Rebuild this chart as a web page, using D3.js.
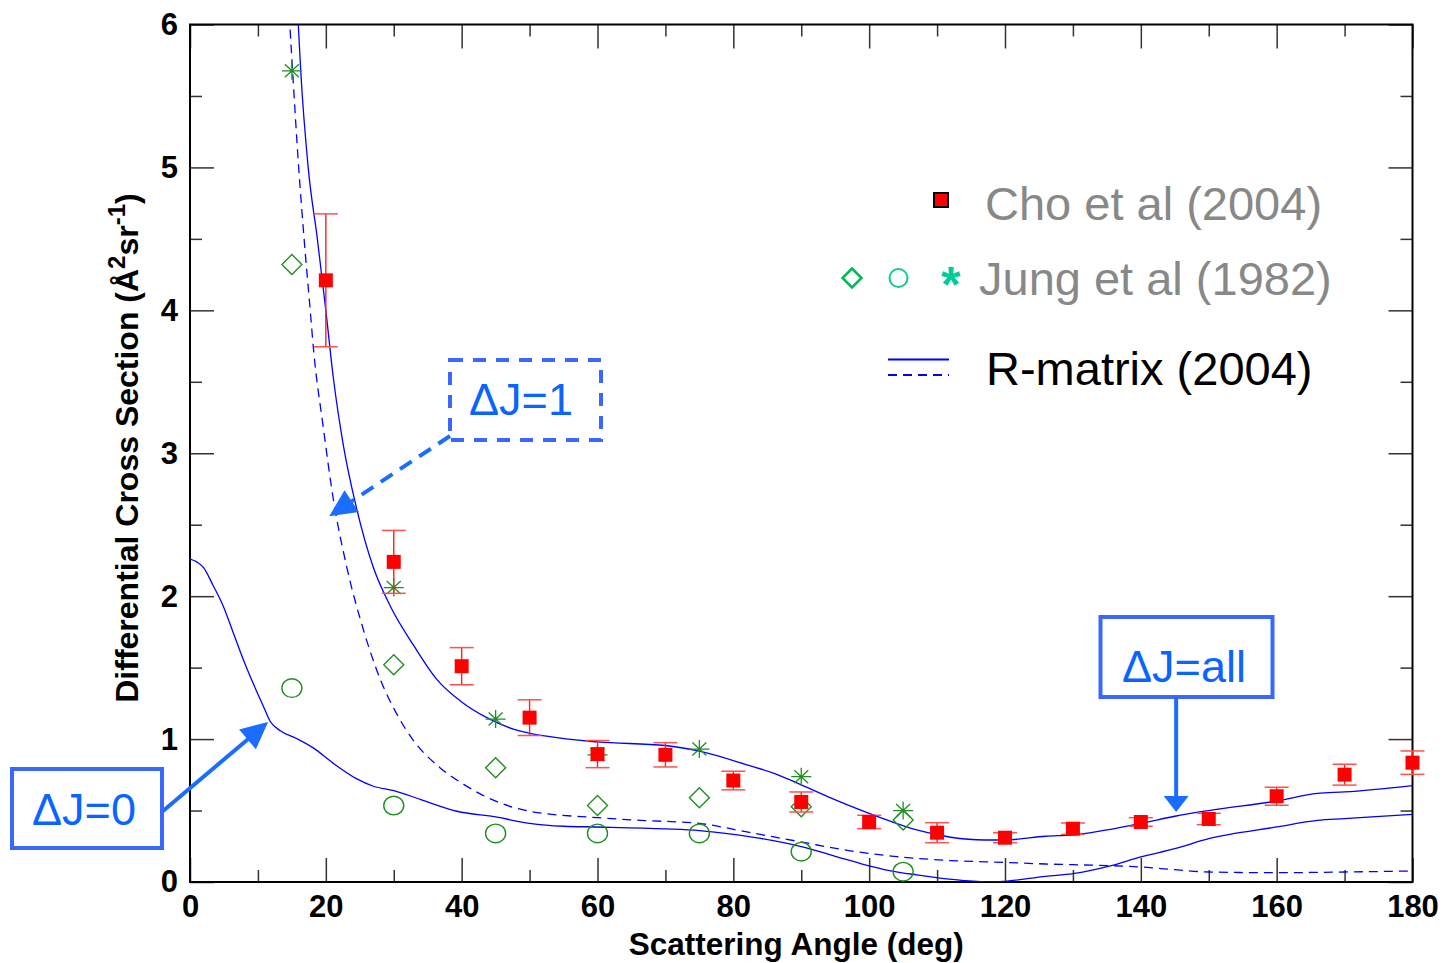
<!DOCTYPE html>
<html>
<head>
<meta charset="utf-8">
<script src="https://cdn.jsdelivr.net/npm/d3@7"></script>
<style>
  html, body { margin: 0; padding: 0; background: #fff; }
  svg { display: block; font-family: "Liberation Sans", Arial, sans-serif; }
</style>
</head>
<body>
<svg id="chart" width="1447" height="963"></svg>
<script>
// ---------------- data ----------------
const xMajorTicks = [0, 20, 40, 60, 80, 100, 120, 140, 160, 180];
const xMinorTicks = [10, 30, 50, 70, 90, 110, 130, 150, 170];
const yMajorTicks = [0, 1, 2, 3, 4, 5, 6];
const yMinorTicks = [0.5, 1.5, 2.5, 3.5, 4.5, 5.5];

// Cho et al (2004)
const choAngles = [20, 30, 40, 50, 60, 70, 80, 90, 100, 110, 120, 130, 140, 150, 160, 170, 180];
const choValues = [4.21, 2.24, 1.51, 1.15, 0.895, 0.89, 0.71, 0.56, 0.42, 0.345, 0.31, 0.373, 0.42, 0.441, 0.60, 0.751, 0.835];
const choErrors = [0.465, 0.22, 0.13, 0.125, 0.095, 0.085, 0.065, 0.07, 0.047, 0.07, 0.035, 0.04, 0.03, 0.04, 0.063, 0.073, 0.082];

// Jung et al (1982)
const jungDiamondAngles = [15, 30, 45, 60, 75, 90, 105];
const jungDiamondValues = [4.32, 1.52, 0.80, 0.535, 0.59, 0.527, 0.434];
const jungCircleAngles = [15, 30, 45, 60, 75, 90, 105];
const jungCircleValues = [1.357, 0.535, 0.34, 0.34, 0.34, 0.212, 0.072];
const jungStarAngles = [15, 30, 45, 60, 75, 90, 105];
const jungStarValues = [5.676, 2.06, 1.14, 0.89, 0.93, 0.737, 0.50];

// R-matrix (2004): ΔJ=all (solid), ΔJ=1 (dashed), ΔJ=0 (solid)
const rmAllAngles = [15, 16, 16.3, 17.4, 18.75, 20, 21.1, 22.6, 24.5, 27, 29.5, 33, 36.3, 40, 43.7, 47.6, 52.5, 60, 70, 75, 82, 86, 90, 94.5, 100, 103, 107, 112, 117, 120, 126, 130, 140, 145, 150, 160, 166, 170, 180];
const rmAllValues = [6.8, 5.95, 5.68, 5.0, 4.5, 4.0, 3.53, 3.05, 2.62, 2.2, 1.93, 1.65, 1.42, 1.26, 1.15, 1.07, 1.02, 0.98, 0.955, 0.915, 0.82, 0.76, 0.68, 0.585, 0.48, 0.427, 0.364, 0.313, 0.294, 0.294, 0.32, 0.33, 0.41, 0.46, 0.50, 0.567, 0.62, 0.63, 0.675];

const rmJ1Angles = [14, 14.7, 15.1, 16, 16.8, 17.7, 18.2, 19.6, 21.1, 23.1, 25.5, 28, 30.4, 32.9, 36.8, 40.3, 45.2, 50, 60, 67, 75, 82, 90, 97, 104, 112, 120, 126, 130, 140, 145, 150, 160, 170, 180];
const rmJ1Values = [6.7, 6.0, 5.68, 5.0, 4.5, 4.0, 3.72, 3.19, 2.68, 2.2, 1.77, 1.42, 1.18, 0.99, 0.80, 0.683, 0.562, 0.495, 0.45, 0.43, 0.41, 0.35, 0.28, 0.22, 0.178, 0.15, 0.137, 0.126, 0.121, 0.105, 0.086, 0.07, 0.065, 0.07, 0.077];

const rmJ0Angles = [0, 1, 2, 3.4, 4.9, 6.4, 7.9, 9.3, 10.8, 11.8, 13.3, 15.7, 18.2, 21.1, 24.5, 27, 30, 34, 39.3, 45, 50, 55, 60, 70, 75, 83, 90, 95, 99.4, 103, 107, 114, 118, 120, 126, 130, 135.5, 140, 145, 150, 160, 166, 170, 180];
const rmJ0Values = [2.26, 2.24, 2.2, 2.075, 1.93, 1.74, 1.55, 1.39, 1.23, 1.125, 1.058, 1.004, 0.937, 0.83, 0.723, 0.67, 0.64, 0.576, 0.495, 0.455, 0.41, 0.39, 0.385, 0.372, 0.36, 0.313, 0.248, 0.18, 0.12, 0.08, 0.05, 0.01, 0.0, 0.005, 0.04, 0.058, 0.112, 0.175, 0.233, 0.303, 0.385, 0.431, 0.443, 0.473];

// annotation labels
const annoLabels = ["ΔJ=1", "ΔJ=0", "ΔJ=all"];
const legendLabels = ["Cho et al (2004)", "Jung et al (1982)", "R-matrix (2004)"];

// ---------------- drawing ----------------
const svg = d3.select("#chart");
const L = 190, R = 1412.5, T = 24.5, B = 882;
const x = d3.scaleLinear().domain([0, 180]).range([L, R]);
const y = d3.scaleLinear().domain([0, 6]).range([B, T]);

const FONT = '"Liberation Sans", Arial, sans-serif';
const BLUE_LINE = "#0000ff";
const GREEN = "#1f8f1f";
const RED = "#ff0000";
const ANNO_TEXT = "#0a64ff";
const ANNO_BOX = "#3a68ff";
const ANNO_ARROW = "#1a6dff";

svg.append("defs").append("clipPath").attr("id", "plotclip")
  .append("rect").attr("x", L).attr("y", T).attr("width", R - L).attr("height", B - T);

// axes (ticks inward on all sides)
function styleAxis(g) {
  g.select(".domain").remove();
  g.selectAll(".tick line").attr("stroke", "#333").attr("stroke-width", 1.5);
  g.selectAll(".tick text").attr("fill", "#000").attr("font-family", FONT)
    .attr("font-weight", "bold").attr("font-size", 31);
}
svg.append("g").attr("transform", `translate(0,${B})`)
  .call(d3.axisBottom(x).tickValues(xMajorTicks).tickSize(-24).tickPadding(13).tickFormat(d3.format("d")))
  .call(styleAxis);
svg.append("g").attr("transform", `translate(0,${B})`)
  .call(d3.axisBottom(x).tickValues(xMinorTicks).tickSize(-12).tickFormat(""))
  .call(styleAxis);
svg.append("g").attr("transform", `translate(0,${T})`)
  .call(d3.axisTop(x).tickValues(xMajorTicks).tickSize(-24).tickFormat(""))
  .call(styleAxis);
svg.append("g").attr("transform", `translate(0,${T})`)
  .call(d3.axisTop(x).tickValues(xMinorTicks).tickSize(-12).tickFormat(""))
  .call(styleAxis);
svg.append("g").attr("transform", `translate(${L},0)`)
  .call(d3.axisLeft(y).tickValues(yMajorTicks).tickSize(-24).tickPadding(12).tickFormat(d3.format("d")))
  .call(styleAxis);
svg.append("g").attr("transform", `translate(${L},0)`)
  .call(d3.axisLeft(y).tickValues(yMinorTicks).tickSize(-12).tickFormat(""))
  .call(styleAxis);
svg.append("g").attr("transform", `translate(${R},0)`)
  .call(d3.axisRight(y).tickValues(yMajorTicks).tickSize(-24).tickFormat(""))
  .call(styleAxis);
svg.append("g").attr("transform", `translate(${R},0)`)
  .call(d3.axisRight(y).tickValues(yMinorTicks).tickSize(-12).tickFormat(""))
  .call(styleAxis);

// frame
svg.append("rect").attr("x", L).attr("y", T).attr("width", R - L).attr("height", B - T)
  .attr("fill", "none").attr("stroke", "#000").attr("stroke-width", 2);

// axis titles
svg.append("text").attr("x", (L + R) / 2 - 5).attr("y", 955)
  .attr("text-anchor", "middle").attr("font-family", FONT).attr("font-weight", "bold")
  .attr("font-size", 31.5).text("Scattering Angle (deg)");

const yl = svg.append("text").attr("transform", "translate(138,448) rotate(-90)")
  .attr("text-anchor", "middle").attr("font-family", FONT).attr("font-weight", "bold")
  .attr("font-size", 32);
yl.append("tspan").text("Differential Cross Section (Å");
yl.append("tspan").attr("font-size", 24).attr("dy", -13).text("2");
yl.append("tspan").attr("dy", 13).text("sr");
yl.append("tspan").attr("font-size", 24).attr("dy", -13).text("-1");
yl.append("tspan").attr("dy", 13).text(")");

// curves
const plot = svg.append("g").attr("clip-path", "url(#plotclip)");
const line = d3.line().x(d => x(d[0])).y(d => y(d[1])).curve(d3.curveMonotoneX);
const zip = (a, b) => a.map((v, i) => [v, b[i]]);

plot.append("path").datum(zip(rmAllAngles, rmAllValues)).attr("d", line)
  .attr("fill", "none").attr("stroke", BLUE_LINE).attr("stroke-width", 1.3);
plot.append("path").datum(zip(rmJ1Angles, rmJ1Values)).attr("d", line)
  .attr("fill", "none").attr("stroke", BLUE_LINE).attr("stroke-width", 1.3).attr("stroke-dasharray", "9,6");
plot.append("path").datum(zip(rmJ0Angles, rmJ0Values)).attr("d", line)
  .attr("fill", "none").attr("stroke", BLUE_LINE).attr("stroke-width", 1.3);

// Jung markers
const marks = svg.append("g");
marks.selectAll("path.dia").data(zip(jungDiamondAngles, jungDiamondValues)).join("path")
  .attr("class", "dia")
  .attr("d", d => { const cx = x(d[0]), cy = y(d[1]), s = 10; return `M${cx},${cy - s}L${cx + s},${cy}L${cx},${cy + s}L${cx - s},${cy}Z`; })
  .attr("fill", "none").attr("stroke", GREEN).attr("stroke-width", 1.4);
marks.selectAll("ellipse.circ").data(zip(jungCircleAngles, jungCircleValues)).join("ellipse")
  .attr("class", "circ").attr("cx", d => x(d[0])).attr("cy", d => y(d[1]))
  .attr("rx", 10).attr("ry", 9.3)
  .attr("fill", "none").attr("stroke", GREEN).attr("stroke-width", 1.4);
marks.selectAll("path.star").data(zip(jungStarAngles, jungStarValues)).join("path")
  .attr("class", "star")
  .attr("d", d => {
    const cx = x(d[0]), cy = y(d[1]);
    return `M${cx - 10},${cy}L${cx + 10},${cy}M${cx},${cy - 9}L${cx},${cy + 9}` +
      `M${cx - 7},${cy - 6.5}L${cx + 7},${cy + 6.5}M${cx - 7},${cy + 6.5}L${cx + 7},${cy - 6.5}`;
  })
  .attr("fill", "none").attr("stroke", GREEN).attr("stroke-width", 1.3);

// Cho markers with error bars
const cho = choAngles.map((a, i) => ({ a, v: choValues[i], e: choErrors[i] }));
const eb = svg.append("g");
eb.selectAll("line.ev").data(cho).join("line").attr("class", "ev")
  .attr("x1", d => x(d.a)).attr("x2", d => x(d.a))
  .attr("y1", d => y(d.v + d.e)).attr("y2", d => y(d.v - d.e))
  .attr("stroke", "#ff2020").attr("stroke-width", 1.4);
eb.selectAll("line.et").data(cho).join("line").attr("class", "et")
  .attr("x1", d => x(d.a) - 12).attr("x2", d => x(d.a) + 12)
  .attr("y1", d => y(d.v + d.e)).attr("y2", d => y(d.v + d.e))
  .attr("stroke", "#ff5050").attr("stroke-width", 1.5);
eb.selectAll("line.eb").data(cho).join("line").attr("class", "eb")
  .attr("x1", d => x(d.a) - 12).attr("x2", d => x(d.a) + 12)
  .attr("y1", d => y(d.v - d.e)).attr("y2", d => y(d.v - d.e))
  .attr("stroke", "#ff5050").attr("stroke-width", 1.5);
eb.selectAll("rect.sq").data(cho).join("rect").attr("class", "sq")
  .attr("x", d => x(d.a) - 7).attr("y", d => y(d.v) - 7)
  .attr("width", 14).attr("height", 14).attr("fill", RED);

// ---------------- legend ----------------
const lg = svg.append("g");
lg.append("rect").attr("x", 934).attr("y", 193).attr("width", 14).attr("height", 14)
  .attr("fill", RED).attr("stroke", "#000").attr("stroke-width", 2);
lg.append("text").attr("x", 985).attr("y", 220).attr("font-family", FONT).attr("font-size", 47)
  .attr("fill", "#888888").text(legendLabels[0]);
lg.append("path").attr("d", "M852,268.5L861.5,278L852,287.5L842.5,278Z")
  .attr("fill", "none").attr("stroke", "#00bb55").attr("stroke-width", 2.5);
lg.append("circle").attr("cx", 898.5).attr("cy", 278).attr("r", 9)
  .attr("fill", "none").attr("stroke", "#11cc88").attr("stroke-width", 2);
lg.append("text").attr("x", 951).attr("y", 302).attr("text-anchor", "middle")
  .attr("font-family", FONT).attr("font-weight", "bold").attr("font-size", 50)
  .attr("fill", "#00cc99").text("*");
lg.append("text").attr("x", 979).attr("y", 295).attr("font-family", FONT).attr("font-size", 47)
  .attr("fill", "#888888").text(legendLabels[1]);
lg.append("line").attr("x1", 888).attr("x2", 949).attr("y1", 359.5).attr("y2", 359.5)
  .attr("stroke", BLUE_LINE).attr("stroke-width", 2);
lg.append("line").attr("x1", 888).attr("x2", 949).attr("y1", 375).attr("y2", 375)
  .attr("stroke", BLUE_LINE).attr("stroke-width", 2).attr("stroke-dasharray", "9,6");
lg.append("text").attr("x", 986).attr("y", 385).attr("font-family", FONT).attr("font-size", 47)
  .attr("fill", "#000").text(legendLabels[2]);

// ---------------- annotations ----------------
const an = svg.append("g");
function arrowHead(tipX, tipY, fromX, fromY, len, halfW) {
  const dx = tipX - fromX, dy = tipY - fromY, n = Math.hypot(dx, dy);
  const ux = dx / n, uy = dy / n;
  const bx = tipX - ux * len, by = tipY - uy * len;
  return `M${tipX},${tipY}L${bx - uy * halfW},${by + ux * halfW}L${bx + uy * halfW},${by - ux * halfW}Z`;
}

// ΔJ=1 (dashed box + dashed arrow)
const t1 = [x(20.5), y(2.56)];
an.append("line").attr("x1", 450).attr("y1", 436).attr("x2", t1[0] + 18).attr("y2", t1[1] - 12)
  .attr("stroke", ANNO_ARROW).attr("stroke-width", 4).attr("stroke-dasharray", "14,9");
an.append("path").attr("d", arrowHead(t1[0], t1[1], 450, 436, 27, 13)).attr("fill", ANNO_ARROW);
an.append("rect").attr("x", 450).attr("y", 360).attr("width", 151).attr("height", 80)
  .attr("fill", "none").attr("stroke", ANNO_BOX).attr("stroke-width", 4).attr("stroke-dasharray", "13,10");
an.append("text").attr("x", 521).attr("y", 415).attr("text-anchor", "middle")
  .attr("font-family", FONT).attr("font-size", 45).attr("fill", ANNO_TEXT).text(annoLabels[0]);

// ΔJ=0 (solid box + arrow)
const t0 = [x(11.5), y(1.12)];
an.append("line").attr("x1", 163).attr("y1", 811).attr("x2", t0[0] - 14).attr("y2", t0[1] + 12)
  .attr("stroke", ANNO_ARROW).attr("stroke-width", 4);
an.append("path").attr("d", arrowHead(t0[0], t0[1], 163, 811, 27, 13)).attr("fill", ANNO_ARROW);
an.append("rect").attr("x", 12).attr("y", 769).attr("width", 150).attr("height", 79)
  .attr("fill", "none").attr("stroke", ANNO_BOX).attr("stroke-width", 4);
an.append("text").attr("x", 84).attr("y", 825).attr("text-anchor", "middle")
  .attr("font-family", FONT).attr("font-size", 45).attr("fill", ANNO_TEXT).text(annoLabels[1]);

// ΔJ=all (solid box + vertical arrow)
const ta = [x(145.2), y(0.49)];
an.append("line").attr("x1", ta[0]).attr("y1", 697).attr("x2", ta[0]).attr("y2", ta[1] - 12)
  .attr("stroke", ANNO_ARROW).attr("stroke-width", 4);
an.append("path").attr("d", arrowHead(ta[0], ta[1], ta[0], 697, 16, 12.5)).attr("fill", ANNO_ARROW);
an.append("rect").attr("x", 1100.5).attr("y", 617).attr("width", 172).attr("height", 80)
  .attr("fill", "none").attr("stroke", ANNO_BOX).attr("stroke-width", 4);
an.append("text").attr("x", 1184).attr("y", 682).attr("text-anchor", "middle")
  .attr("font-family", FONT).attr("font-size", 45).attr("fill", ANNO_TEXT).text(annoLabels[2]);
</script>
</body>
</html>
